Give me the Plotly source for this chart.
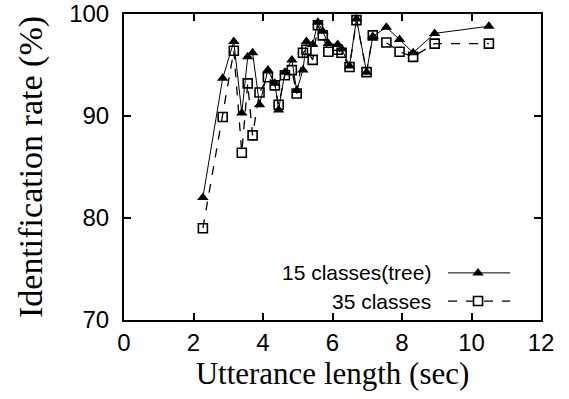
import plotly.graph_objects as go

# Data
length_sec = [2.27, 2.84, 3.16, 3.39, 3.56, 3.70, 3.90, 4.14, 4.34, 4.45,
              4.63, 4.83, 4.97, 5.15, 5.25, 5.43, 5.58, 5.72, 5.88, 6.15,
              6.26, 6.49, 6.69, 6.98, 7.16, 7.55, 7.93, 8.32, 8.94, 10.5]
rate_15_tree = [82.0, 93.7, 97.3, 90.3, 95.8, 96.2, 91.1, 94.5, 93.2, 90.6,
                94.3, 95.5, 92.5, 94.5, 97.3, 97.0, 99.2, 98.3, 97.1, 97.0,
                96.6, 94.9, 99.5, 94.3, 97.8, 98.7, 97.5, 96.2, 98.1, 98.8]
rate_35 = [79.0, 89.9, 96.4, 86.4, 93.2, 88.1, 92.3, 93.8, 93.0, 91.1,
           94.0, 94.5, 92.2, 96.2, 96.5, 95.5, 98.9, 97.9, 96.3, 96.5,
           96.2, 94.8, 99.4, 94.3, 97.9, 97.2, 96.3, 95.8, 97.1, 97.1]
series_names = ["15 classes(tree)", "35 classes"]
x_ticks = [0, 2, 4, 6, 8, 10, 12]
y_ticks = [70, 80, 90, 100]

fig = go.Figure()
fig.add_trace(go.Scatter(
    x=length_sec, y=rate_15_tree, mode="lines+markers", name=series_names[0],
    line=dict(color="black", width=1),
    marker=dict(symbol="triangle-up", size=10, color="black"),
    showlegend=False))
fig.add_trace(go.Scatter(
    x=length_sec, y=rate_35, mode="lines+markers", name=series_names[1],
    line=dict(color="black", width=1.3, dash="dash"),
    marker=dict(symbol="square-open", size=9, color="black", line=dict(width=1.6)),
    showlegend=False))

# gnuplot-style key (text left, sample right) drawn on an overlay axis
key_x = [0.777, 0.849, 0.926]
fig.add_trace(go.Scatter(x=[key_x[0], key_x[2]], y=[0.154, 0.154], mode="lines",
                         line=dict(color="black", width=1), xaxis="x2", yaxis="y2",
                         showlegend=False, hoverinfo="skip"))
fig.add_trace(go.Scatter(x=[key_x[1]], y=[0.154], mode="markers",
                         marker=dict(symbol="triangle-up", size=10, color="black"),
                         xaxis="x2", yaxis="y2", showlegend=False, hoverinfo="skip"))
fig.add_trace(go.Scatter(x=[key_x[0], key_x[2]], y=[0.062, 0.062], mode="lines",
                         line=dict(color="black", width=1.3, dash="dash"), xaxis="x2", yaxis="y2",
                         showlegend=False, hoverinfo="skip"))
fig.add_trace(go.Scatter(x=[key_x[1]], y=[0.062], mode="markers",
                         marker=dict(symbol="square", size=9, color="white",
                                     line=dict(width=1.6, color="black")),
                         xaxis="x2", yaxis="y2", showlegend=False, hoverinfo="skip"))
for name, yy in zip(series_names, [0.154, 0.062]):
    fig.add_annotation(x=0.742, y=yy, xref="x2", yref="y2", text=name, showarrow=False,
                       xanchor="right", yanchor="middle",
                       font=dict(family="Liberation Sans", size=21, color="black"))

axis_common = dict(showgrid=False, zeroline=False, showline=True, linecolor="black",
                   linewidth=2, mirror="ticks", ticks="inside", ticklen=7,
                   tickwidth=1.5, tickcolor="black", automargin=False,
                   tickfont=dict(family="Liberation Sans", size=24, color="black"))
fig.update_layout(
    width=569, height=399,
    margin=dict(l=124, r=28, t=14, b=79),
    paper_bgcolor="white", plot_bgcolor="white",
    xaxis=dict(range=[0, 12], tickvals=x_ticks, **axis_common,
               title=dict(text="Utterance length (sec)", standoff=6,
                          font=dict(family="Liberation Serif", size=31, color="black"))),
    yaxis=dict(range=[70, 100], tickvals=y_ticks, ticklabelstandoff=8, **axis_common,
               title=dict(text="Identification rate (%)", standoff=16,
                          font=dict(family="Liberation Serif", size=34, color="black"))),
    xaxis2=dict(overlaying="x", range=[0, 1], visible=False),
    yaxis2=dict(overlaying="y", range=[0, 1], visible=False),
)
fig.write_html("out.html")
